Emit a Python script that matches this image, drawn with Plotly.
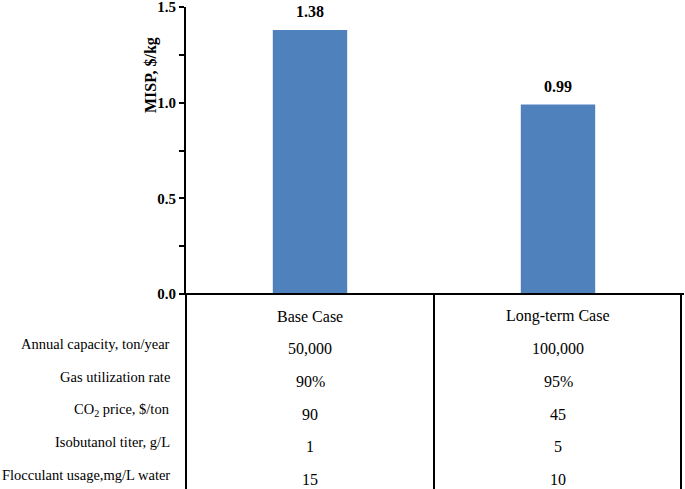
import plotly.graph_objects as go

cases = ["Base Case", "Long-term Case"]
misp = [1.38, 0.99]

row_labels = [
    "Annual capacity, ton/year",
    "Gas utilization rate",
    "CO<sub>2</sub> price, $/ton",
    "Isobutanol titer, g/L",
    "Flocculant usage,mg/L water",
]
base_vals = ["50,000", "90%", "90", "1", "15"]
long_vals = ["100,000", "95%", "45", "5", "10"]

W, H = 685, 489
M = dict(l=186, r=3, t=7, b=195)
PH = H - M["t"] - M["b"]
PW = W - M["l"] - M["r"]
FONT = "Liberation Serif, Times New Roman, serif"
BLUE = "#4F81BD"


def py(pix):
    # pixel row from top -> paper y
    return (H - M["b"] - pix) / PH


def px(pix):
    return (pix - M["l"]) / PW


def txt(**kw):
    kw.setdefault("font", dict(size=16, family=FONT, color="black"))
    fig.add_annotation(showarrow=False, yanchor=kw.pop("yanchor", "middle"), **kw)


fig = go.Figure(go.Bar(
    x=[0, 1], y=misp, marker=dict(color=BLUE, line=dict(width=0)),
    width=0.3, hoverinfo="skip",
))

# value labels above bars
for i, v in enumerate(misp):
    txt(x=i, y=v, text=f"<b>{v:.2f}</b>", yanchor="bottom", yshift=8)

# table header + values
bottom = py(H)
for i, name in enumerate(cases):
    txt(x=i, y=py(316), yref="paper", text=name)
row_y = [348, 381, 414, 446, 479]
for r, lab in enumerate(row_labels):
    txt(x=px(172), xref="paper", y=py(row_y[r] - 4), yref="paper", text=lab, xanchor="right",
        font=dict(size=14.5, family=FONT, color="black"))
    for i, vals in enumerate([base_vals, long_vals]):
        txt(x=i, y=py(row_y[r]), yref="paper", text=vals[r])

# y-axis title
txt(x=px(140), xref="paper", y=py(75), yref="paper", text="<b>MISP, $/kg</b>", textangle=-90)

line = dict(color="black", width=2)
fig.add_shape(type="line", xref="paper", yref="paper", x0=0, x1=0, y0=0, y1=bottom, line=line)
fig.add_shape(type="line", xref="x", yref="paper", x0=0.5, x1=0.5, y0=0, y1=bottom, line=line)
fig.add_shape(type="line", xref="paper", yref="paper", x0=px(681), x1=px(681), y0=0, y1=bottom, line=line)
fig.add_shape(type="line", xref="paper", yref="paper", x0=px(181), x1=px(684), y0=0, y1=0, line=line)

fig.update_layout(
    width=W, height=H, margin=dict(M, autoexpand=False),
    font=dict(family=FONT, color="black"),
    plot_bgcolor="white", paper_bgcolor="white",
    showlegend=False,
    xaxis=dict(range=[-0.5, 1.5], showticklabels=False, showgrid=False, zeroline=False,
               showline=False, ticks="", automargin=False),
    yaxis=dict(range=[0, 1.5], tickvals=[0, 0.5, 1.0, 1.5], tickformat=".1f", automargin=False,
               ticklabeloverflow="allow",
               ticks="outside", ticklen=5, tickwidth=1.5, tickcolor="black",
               minor=dict(dtick=0.25, ticks="outside", ticklen=5, tickwidth=1.5, tickcolor="black", showgrid=False),
               showline=True, linecolor="black", linewidth=2, showgrid=False, zeroline=False,
               tickfont=dict(size=15, family=FONT, color="black", weight="bold")),
)

# drop the default page margin so the figure sits at the window's top-left corner
fig.write_html("out.html", config=dict(displayModeBar=False),
               post_script="document.body.style.margin='0';")
